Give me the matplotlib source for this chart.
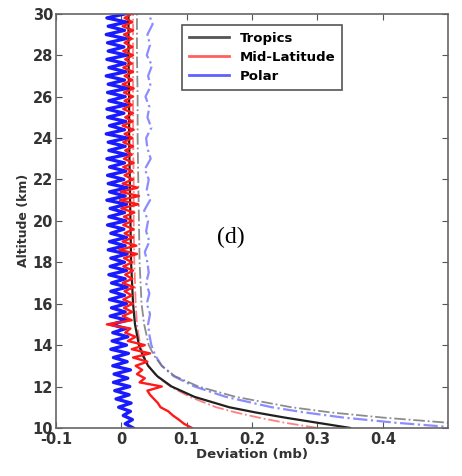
import numpy as np
import matplotlib
matplotlib.use('Agg')
import matplotlib.pyplot as plt

# %% data ---------------------------------------------------------------------

# smooth profiles (altitude in km)
alt_smooth = [10, 10.25, 10.5, 10.75, 11, 11.5, 12, 12.5, 13, 13.5, 14, 15, 16, 18, 20, 22, 24, 26, 28, 30]
tropics_mean = [0.35, 0.30, 0.25, 0.205, 0.165, 0.112, 0.077, 0.055, 0.041, 0.033, 0.027, 0.021,
                0.018, 0.015, 0.014, 0.013, 0.012, 0.012, 0.011, 0.011]
tropics_spread = [0.62, 0.50, 0.40, 0.32, 0.26, 0.175, 0.118, 0.082, 0.062, 0.050, 0.042, 0.035,
                  0.031, 0.028, 0.027, 0.026, 0.025, 0.025, 0.024, 0.024]
midlat_spread = [0.30, 0.25, 0.21, 0.175, 0.145, 0.105, 0.075, 0.054, 0.042, 0.034, 0.029, 0.024,
                 0.022, 0.020, 0.019, 0.019, 0.018, 0.018, 0.018, 0.018]

# noisy polar spread (coarser grid)
alt_polar_spread = [10.0, 10.25, 10.5, 10.75, 11, 11.5, 12, 12.5, 13, 13.5, 14, 14.5, 15, 15.5, 16,
                    16.5, 17, 17.5, 18, 18.5, 19, 19.5, 20, 20.5, 21, 21.5, 22, 22.5, 23, 23.5,
                    24, 24.5, 25, 25.5, 26, 26.5, 27, 27.5, 28, 28.5, 29, 29.5, 30]
polar_spread = [0.52, 0.42, 0.34, 0.28, 0.23, 0.16, 0.112, 0.080, 0.062, 0.052, 0.046, 0.043, 0.041,
                0.044, 0.039, 0.043, 0.038, 0.042, 0.040, 0.036, 0.043, 0.038, 0.041, 0.035, 0.044,
                0.039, 0.042, 0.036, 0.045, 0.040, 0.038, 0.046, 0.040, 0.043, 0.037, 0.045, 0.041,
                0.047, 0.039, 0.044, 0.040, 0.048, 0.042]

# noisy mean profiles, 0.2 km steps from 10 to 30 km
alt_fine = np.linspace(10, 30, 101)
polar_mean = [
    0.018, 0.006, 0.017, 0.003, 0.014, -0.004, 0.015, -0.008, 0.012, -0.010,
    0.013, -0.012, 0.010, -0.011, 0.014, -0.013, 0.009, -0.012, 0.011, -0.016,
    0.008, -0.014, 0.010, -0.013, 0.007, -0.016, 0.009, -0.017, 0.006, -0.015,
    0.008, -0.018, 0.005, -0.016, 0.009, -0.015, 0.006, -0.019, 0.008, -0.017,
    0.005, -0.016, 0.009, -0.020, 0.006, -0.018, 0.008, -0.016, 0.004, -0.021,
    0.007, -0.019, 0.005, -0.017, 0.008, -0.022, 0.006, -0.018, 0.009, -0.020,
    0.004, -0.021, 0.007, -0.018, 0.005, -0.022, 0.008, -0.019, 0.006, -0.020,
    0.009, -0.023, 0.005, -0.018, 0.007, -0.021, 0.004, -0.022, 0.008, -0.019,
    0.006, -0.021, 0.009, -0.020, 0.005, -0.023, 0.007, -0.019, 0.006, -0.022,
    0.008, -0.020, 0.004, -0.021, 0.007, -0.023, 0.005, -0.020, 0.008, -0.022,
    0.006]
midlat_mean = [
    0.108, 0.096, 0.088, 0.079, 0.072, 0.060, 0.056, 0.050, 0.044, 0.040,
    0.062, 0.028, 0.036, 0.024, 0.032, 0.022, 0.040, 0.018, 0.044, 0.016,
    0.036, 0.010, 0.022, 0.006, 0.014, -0.022, 0.016, 0.002, 0.017, 0.004,
    0.018, 0.003, 0.016, 0.005, 0.019, 0.002, 0.017, 0.006, 0.018, 0.003,
    0.017, 0.004, 0.024, -0.003, 0.023, 0.002, 0.018, 0.005, 0.019, 0.003,
    0.017, 0.004, 0.020, 0.000, 0.026, -0.002, 0.027, -0.001, 0.025, 0.002,
    0.018, 0.005, 0.017, 0.003, 0.019, 0.004, 0.016, 0.006, 0.018, 0.003,
    0.017, 0.005, 0.019, 0.002, 0.017, 0.006, 0.018, 0.003, 0.016, 0.005,
    0.018, 0.004, 0.019, 0.002, 0.017, 0.005, 0.018, 0.003, 0.016, 0.006,
    0.018, 0.003, 0.017, 0.005, 0.016, 0.004, 0.018, 0.002, 0.017, 0.005,
    0.016]

x_ticks = [-0.1, 0, 0.1, 0.2, 0.3, 0.4]
x_tick_labels = ['-0.1', '0', '0.1', '0.2', '0.3', '0.4']
y_ticks = [10, 12, 14, 16, 18, 20, 22, 24, 26, 28, 30]

# %% plot ---------------------------------------------------------------------

plt.rcParams['font.family'] = ['DejaVu Sans']

fig = plt.figure(figsize=(4.62, 4.76), dpi=100)
ax = fig.add_axes([0.121, 0.101, 0.849, 0.870])

ax.plot(polar_spread, alt_polar_spread, color='#7070ff', ls='-.', lw=1.6, alpha=0.8)
ax.plot(tropics_spread, alt_smooth, color='#707070', ls='-.', lw=1.3, alpha=0.8)
ax.plot(midlat_spread, alt_smooth, color='#ff6060', ls='-.', lw=1.3, alpha=0.8)
ax.plot(polar_mean, alt_fine, color='#1a1aff', lw=2.4)
ax.plot(tropics_mean, alt_smooth, color='#202020', lw=1.6)
ax.plot(midlat_mean, alt_fine, color='#ff1a1a', lw=1.7)

# legend proxies
ax.plot([], [], color='#555555', lw=2, label='Tropics')
ax.plot([], [], color='#ff6060', lw=2, label='Mid-Latitude')
ax.plot([], [], color='#6060ff', lw=2, label='Polar')
handles, labels = ax.get_legend_handles_labels()
leg = ax.legend(handles, labels, loc='upper left', bbox_to_anchor=(0.305, 0.99),
                prop={'weight': 'bold', 'size': 9.5}, fancybox=False, edgecolor='#555555',
                handlelength=3.0, borderpad=0.55, labelspacing=0.45, framealpha=1)
leg.get_frame().set_linewidth(1.2)

ax.text(0.168, 19.2, '(d)', family='Liberation Serif', fontsize=17, ha='center', va='center')

ax.set_xlim(-0.1, 0.5)
ax.set_ylim(10, 30)
ax.set_xticks(x_ticks)
ax.set_xticklabels(x_tick_labels)
ax.set_yticks(y_ticks)
ax.tick_params(direction='in', top=True, right=True, length=4, color='#555555',
               labelsize=10.5, pad=2)
ax.tick_params(axis='x', pad=3)
for lbl in ax.get_xticklabels() + ax.get_yticklabels():
    lbl.set_fontweight('bold')
    lbl.set_color('#333333')
for sp in ax.spines.values():
    sp.set_color('#666666')
    sp.set_linewidth(1.2)

ax.set_xlabel('Deviation (mb)', fontsize=9.5, fontweight='bold', color='#333333', labelpad=1)
ax.set_ylabel('Altitude (km)', fontsize=9, fontweight='bold', color='#333333', labelpad=2)

fig.savefig('out.png', dpi=100)
